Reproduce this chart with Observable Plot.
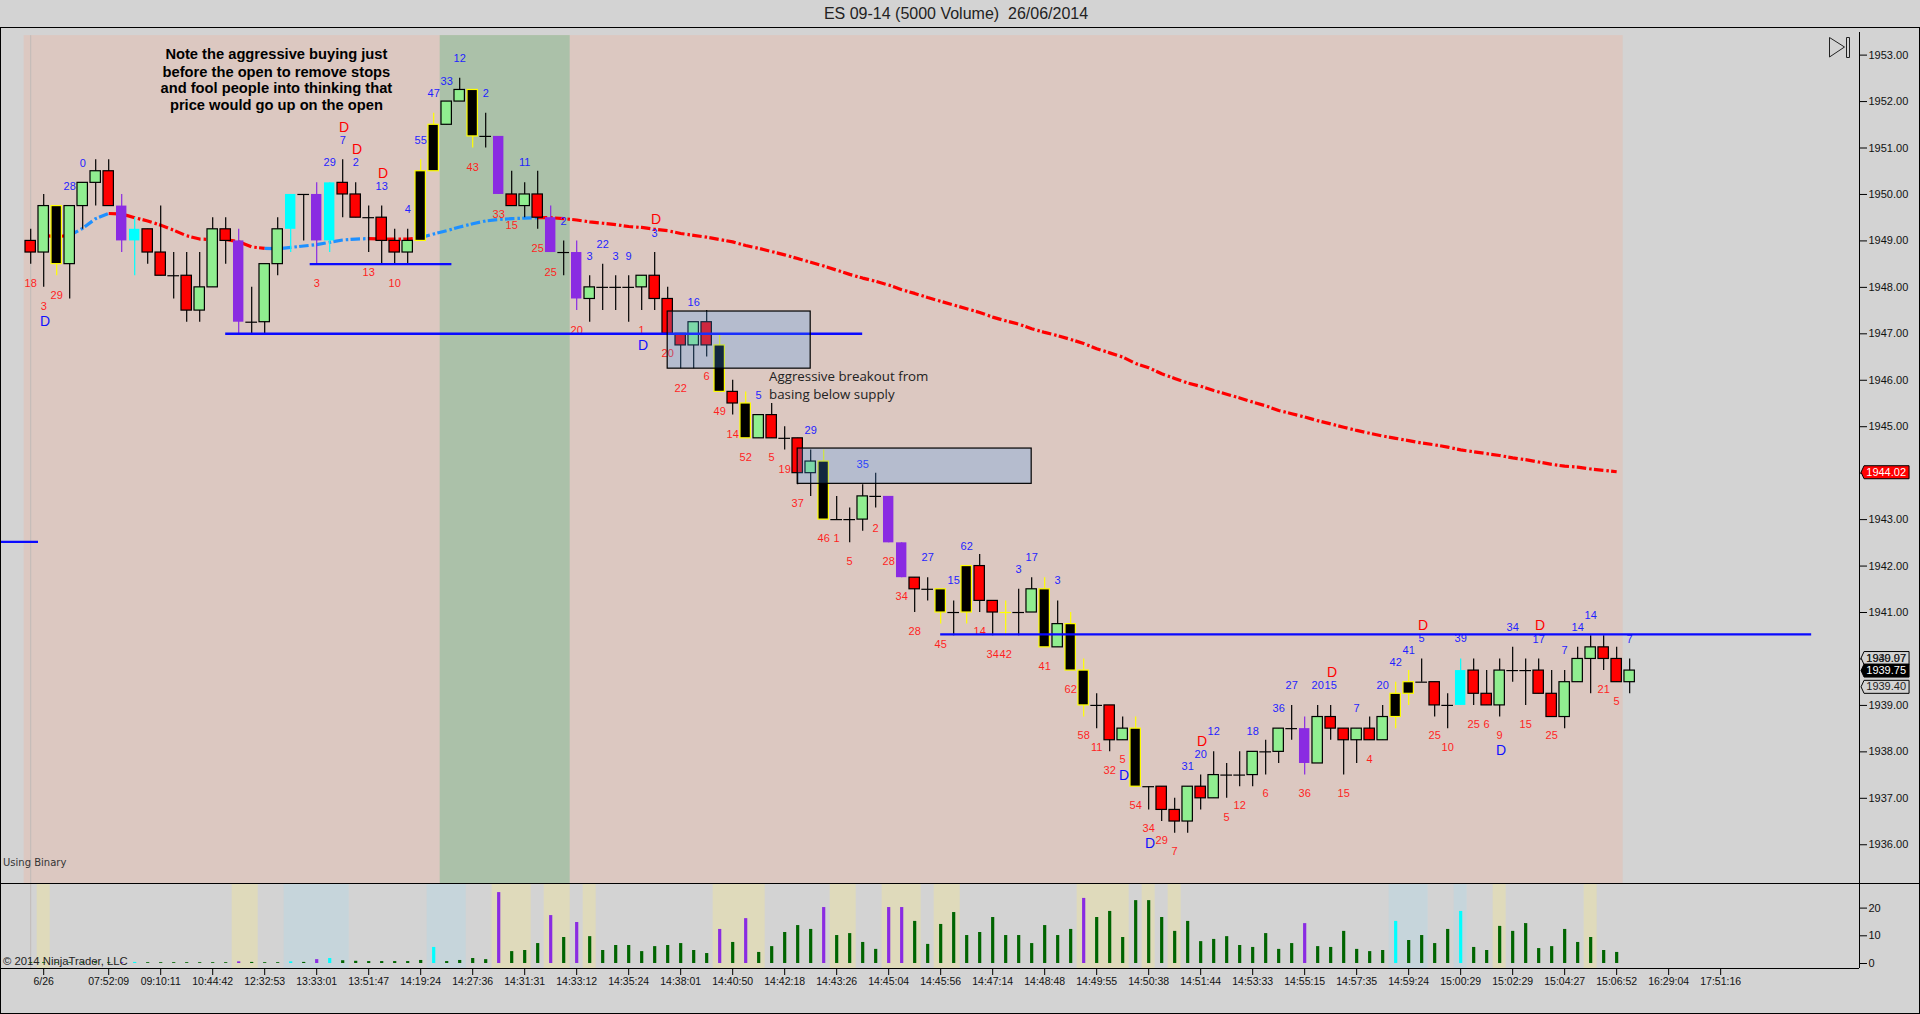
<!DOCTYPE html>
<html>
<head>
<meta charset="utf-8">
<script src="https://cdn.jsdelivr.net/npm/d3@7"></script>
<script src="https://cdn.jsdelivr.net/npm/@observablehq/plot@0.6"></script>
<style>
html,body{margin:0;padding:0;background:#d3d3d3;width:1920px;height:1014px;overflow:hidden;font-family:"Liberation Sans",Arial,sans-serif}
.abs{position:absolute}
#frame{left:0;top:27px;width:1920px;height:987px;box-sizing:border-box;border:1px solid #000;pointer-events:none}
#title{left:0;top:5px;width:1912px;text-align:center;font-size:16px;color:#222;white-space:pre}
#using{left:3px;top:857px;color:#333;font-family:"DejaVu Sans";font-size:10px}
#copy{left:3px;top:955px;font-size:11.3px;color:#222}
#price,#volume{left:0}
#price{top:28px}
#volume{top:883px}
#price svg,#volume svg{display:block;overflow:visible}
</style>
</head>
<body>
<div id="price" class="abs"></div>
<div id="volume" class="abs"></div>
<div id="frame" class="abs"></div>
<div id="title" class="abs">ES 09-14 (5000 Volume)  26/06/2014</div>
<div id="using" class="abs">Using Binary</div>
<div id="copy" class="abs">© 2014 NinjaTrader, LLC</div>
<svg class="abs" style="left:1825px;top:33px" width="30" height="30"><path d="M4.5 4.5 L19.5 14 L4.5 24 Z M21.5 4.5 h3 v20 h-3 Z" fill="none" stroke="#222" stroke-width="1"/></svg>
<div class="abs" style="left:1859px;top:32px;width:1px;height:936px;background:#000"></div>
<div class="abs" style="left:0;top:968px;width:1859px;height:1px;background:#000"></div>
<div class="abs" style="left:0;top:883px;width:1920px;height:1px;background:#000"></div>
<script>
// one row per bar: kinds g=up r=down k=black/yellow p=purple c=cyan d=doji y=yellow doji
const barKinds = [
 "r","g","k","g","g","g","r","p","c","r","r","d","r","g","g","r","p","d","g","g",
 "c","d","p","c","r","r","d","r","r","g","k","k","g","g","k","d","p","r","g","r",
 "p","d","p","g","d","d","d","g","r","r","r","g","r","k","r","k","g","r","d","r",
 "g","k","d","d","g","d","p","p","r","d","k","d","k","r","r","y","d","g","k","g",
 "k","k","d","r","g","k","d","r","r","g","r","g","d","d","g","d","g","d","p","g",
 "r","r","g","r","g","k","k","d","r","d","c","r","r","g","d","d","r","r","g","g",
 "g","r","r","g"];
const opens = [1949,1948.75,1949.75,1948.5,1949.75,1950.25,1950.5,1949.75,1949.25,1949.25,1948.75,1948.25,1948.25,1947.5,1948,1949.25,1949,1947.25,1947.25,1948.5,
 1949.25,1950,1950,1949,1950.25,1950,1949.5,1949.5,1949,1948.75,1949,1950.5,1951.5,1952,1952.25,1951.25,1951.25,1950,1949.75,1950,
 1949.5,1948.75,1948.75,1947.75,1948,1948,1948,1948,1948.25,1947.75,1947,1946.75,1947.25,1946.75,1945.75,1945.5,1944.75,1945.25,1944.75,1944.75,
 1944,1944.25,1943,1943,1943,1943.5,1943.5,1942.5,1941.75,1941.5,1941.5,1941,1941,1942,1941.25,1941,1941,1941,1941.5,1940.25,
 1940.75,1939.75,1939,1939,1938.25,1938.5,1937.25,1937.25,1936.75,1936.5,1937.25,1937,1937.5,1937.5,1937.5,1938,1938,1938.5,1938.5,1937.75,
 1938.75,1938.5,1938.25,1938.5,1938.25,1938.75,1939.25,1939.5,1939.5,1939,1939,1939.75,1939.25,1939,1939.75,1939.75,1939.75,1939.25,1938.75,1939.5,
 1940,1940.25,1940,1939.5];
const closes = [1948.75,1949.75,1948.5,1949.75,1950.25,1950.5,1949.75,1949,1949,1948.75,1948.25,1948.25,1947.5,1948,1949.25,1949,1947.25,1947.25,1948.5,1949.25,
 1950,1950,1949,1950.25,1950,1949.5,1949.5,1949,1948.75,1949,1950.5,1951.5,1952,1952.25,1951.25,1951.25,1950,1949.75,1950,1949.5,
 1948.75,1948.75,1947.75,1948,1948,1948,1948,1948.25,1947.75,1947,1946.75,1947.25,1946.75,1945.75,1945.5,1944.75,1945.25,1944.75,1944.75,1944,
 1944.25,1943,1943,1943,1943.5,1943.5,1942.5,1941.75,1941.5,1941.5,1941,1941,1942,1941.25,1941,1941,1941,1941.5,1940.25,1940.75,
 1939.75,1939,1939,1938.25,1938.5,1937.25,1937.25,1936.75,1936.5,1937.25,1937,1937.5,1937.5,1937.5,1938,1938,1938.5,1938.5,1937.75,1938.75,
 1938.5,1938.25,1938.5,1938.25,1938.75,1939.25,1939.5,1939.5,1939,1939,1939.75,1939.25,1939,1939.75,1939.75,1939.75,1939.25,1938.75,1939.5,1940,
 1940.25,1940,1939.5,1939.75];
const highs = [1949.25,1950,1949.75,1949.75,1950.25,1950.75,1950.75,1950,1949.5,1949.25,1949.75,1948.75,1948.75,1948.75,1949.5,1949.5,1949.25,1948,1948.5,1949.5,
 1950,1950,1950.25,1950.25,1950.75,1950.25,1949.75,1949.75,1949.25,1949.25,1950.75,1951.75,1952,1952.5,1952.25,1951.75,1951.25,1950.5,1950.25,1950.5,
 1949.75,1949,1949,1948.25,1948.5,1948.25,1948.25,1948.25,1948.75,1948,1947,1947.25,1947.5,1947,1946,1945.75,1945.25,1945.5,1945,1944.75,
 1944.5,1944.5,1943.5,1943.25,1943.75,1944,1943.5,1942.5,1941.75,1941.75,1941.5,1941.25,1942,1942.25,1941.25,1941.25,1941.5,1941.75,1941.75,1941.25,
 1941,1940,1939.25,1939,1938.75,1938.75,1937.25,1937.25,1937,1937.25,1937.5,1938,1937.75,1938,1938,1938.25,1938.5,1939,1938.75,1939,
 1939,1938.5,1938.5,1938.75,1939,1939.5,1939.75,1940,1939.5,1939.25,1940,1940,1939.75,1940,1940.25,1940,1940,1939.75,1939.75,1940.25,
 1940.5,1940.5,1940.25,1940];
const lows = [1948.5,1948,1948.25,1947.75,1949.25,1949.75,1949.75,1948.75,1948.25,1948.5,1948.25,1947.75,1947.25,1947.25,1948,1948.5,1947,1947,1947,1948.25,
 1948.75,1949,1948.5,1948.75,1949.5,1949.5,1948.75,1948.5,1948.5,1948.5,1949,1950.5,1951.5,1952,1951,1951,1950,1949.75,1949.5,1949.25,
 1948.75,1948.25,1947.5,1947.25,1947.5,1947.5,1947.25,1947.5,1947.5,1947,1946.25,1946.25,1946.5,1945.75,1945.25,1944.75,1944.75,1944.75,1944.5,1943.75,
 1943.5,1943,1943,1942.5,1942.75,1943.25,1942.5,1941.75,1941,1941.25,1940.75,1940.5,1940.75,1941,1940.5,1940.5,1940.5,1941,1940.25,1940.25,
 1939.75,1938.75,1938.5,1938,1938.25,1937.25,1936.75,1936.5,1936.25,1936.25,1936.75,1937,1937,1937.25,1937.25,1937.5,1937.75,1938.25,1937.5,1937.75,
 1938.25,1937.5,1937.75,1938.25,1938.25,1938.5,1939,1939.5,1938.75,1938.5,1939,1939,1939,1938.75,1939.5,1939,1939.25,1938.75,1938.5,1939.5,
 1939.25,1939.75,1939.5,1939.25];

// moving average, bar 1 to bar 122
const emaValues = [1949.12,1949.09,1949.12,1949.27,1949.48,1949.59,1949.58,1949.5,1949.43,1949.34,1949.23,1949.11,1949.04,1949.03,1949.03,1948.98,1948.87,1948.84,1948.83,1948.86,
 1948.89,1948.92,1948.97,1949.02,1949.04,1949.05,1949.04,1949.04,1949.04,1949.07,1949.15,1949.22,1949.3,1949.37,1949.43,1949.46,1949.48,1949.49,1949.5,1949.5,
 1949.48,1949.45,1949.41,1949.38,1949.35,1949.31,1949.29,1949.25,1949.22,1949.16,1949.12,1949.08,1949.03,1948.98,1948.9,1948.84,1948.77,1948.7,1948.62,1948.54,
 1948.46,1948.37,1948.28,1948.2,1948.13,1948.05,1947.95,1947.87,1947.78,1947.7,1947.62,1947.54,1947.46,1947.36,1947.28,1947.21,1947.11,1947.03,1946.96,1946.88,
 1946.79,1946.68,1946.59,1946.5,1946.36,1946.27,1946.14,1946.04,1945.94,1945.87,1945.78,1945.7,1945.62,1945.53,1945.45,1945.35,1945.28,1945.21,1945.13,1945.06,
 1944.99,1944.92,1944.86,1944.8,1944.75,1944.7,1944.65,1944.61,1944.56,1944.5,1944.46,1944.42,1944.38,1944.33,1944.29,1944.24,1944.19,1944.15,1944.13,1944.09,
 1944.06,1944.03];
const emaSegments = [[1,3,"#ff0000"],[3,6,"#1e90ff"],[6,18,"#ff0000"],[18,26,"#1e90ff"],[26,30,"#ff0000"],[30,39,"#1e90ff"],[39,122,"#ff0000"]];

const blueLabels = [[4,1950.67,"0"],[3,1950.18,"28"],[23,1950.68,"29"],[24,1951.17,"7"],[25,1950.68,"2"],[27,1950.18,"13"],[29,1949.68,"4"],[30,1951.17,"55"],[31,1952.18,"47"],[32,1952.43,"33"],[33,1952.92,"12"],[35,1952.18,"2"],[38,1950.68,"11"],[41,1949.42,"2"],[43,1948.67,"3"],[44,1948.92,"22"],[45,1948.67,"3"],[46,1948.67,"9"],
 [48,1949.17,"3"],[51,1947.68,"16"],[56,1945.68,"5"],[60,1944.92,"29"],[64,1944.19,"35"],[69,1942.19,"27"],[72,1942.42,"62"],[71,1941.69,"15"],[76,1941.93,"3"],[77,1942.19,"17"],[79,1941.69,"3"],
 [89,1937.68,"31"],[90,1937.94,"20"],[91,1938.44,"12"],[94,1938.44,"18"],[96,1938.93,"36"],[97,1939.43,"27"],[99,1939.43,"20"],[100,1939.43,"15"],[102,1938.93,"7"],[104,1939.43,"20"],[105,1939.92,"42"],[106,1940.18,"41"],[107,1940.44,"5"],[110,1940.44,"39"],[114,1940.68,"34"],[116,1940.43,"17"],[118,1940.18,"7"],[119,1940.68,"14"],[120,1940.94,"14"],[123,1940.43,"7"]];
const redLabels = [[0,1948.09,"18"],[1,1947.59,"3"],[2,1947.83,"29"],[22,1948.09,"3"],[26,1948.33,"13"],[28,1948.09,"10"],[34,1950.59,"43"],[36,1949.58,"33"],[37,1949.34,"15"],[39,1948.84,"25"],[40,1948.33,"25"],[42,1947.08,"20"],
 [47,1947.08,"1"],[49,1946.58,"20"],[50,1945.82,"22"],[52,1946.08,"6"],[53,1945.33,"49"],[54,1944.83,"14"],[55,1944.34,"52"],[57,1944.34,"5"],[58,1944.08,"19"],[59,1943.35,"37"],[61,1942.59,"46"],[62,1942.59,"1"],[63,1942.1,"5"],[65,1942.82,"2"],[66,1942.1,"28"],[67,1941.35,"34"],
 [68,1940.59,"28"],[70,1940.32,"45"],[73,1940.59,"14"],[74,1940.09,"34"],[75,1940.09,"42"],[78,1939.84,"41"],[80,1939.34,"62"],[81,1938.35,"58"],[82,1938.09,"11"],[84,1937.83,"5"],[83,1937.59,"32"],[85,1936.84,"54"],[86,1936.34,"34"],[87,1936.09,"29"],[88,1935.86,"7"],[92,1936.58,"5"],[93,1936.84,"12"],[95,1937.1,"6"],[98,1937.1,"36"],[101,1937.1,"15"],[103,1937.83,"4"],[108,1938.35,"25"],[109,1938.09,"10"],[111,1938.59,"25"],[112,1938.59,"6"],[113,1938.35,"9"],[115,1938.59,"15"],[117,1938.35,"25"],[121,1939.34,"21"],[122,1939.08,"5"]];
const blueD = [[1.1,1947.26],[47.1,1946.75],[84.1,1937.5],[86.1,1936.03],[113.1,1938.03]];
const redD = [[24.1,1951.45],[25.1,1950.96],[27.1,1950.46],[48.1,1949.45],[90.1,1938.22],[100.1,1939.71],[107.1,1940.72],[116.1,1940.72]];

const blueLines = [[21.5,32.4,1948.5],[15,64,1947],[70,137,1940.53],[-2.25,0.6,1942.52]];
const supplyZones = [[49,60,1947.48,1946.25],[59,77,1944.53,1943.77]];
const noteLines = ["Note the aggressive buying just","before the open to remove stops","and fool people into thinking that","price would go up on the open"];
const notePrices = [1953.01,1952.64,1952.28,1951.91];
const breakoutLines = ["Aggressive breakout from","basing below supply"];
const breakoutPrices = [1946.07,1945.68];
const flagTexts = [["1940.07",1940.02,"#d3d3d3","#222"],["1939.97",1940.02,"none","#222"],["1944.02",1944.02,"#ff0000","#fff"],["1939.75",1939.75,"#000","#fff"],["1939.40",1939.40,"#d3d3d3","#222"]];

const volumes = [.3,.3,.3,.3,.3,.3,.3,.3,.4,.3,.3,.3,.3,.3,.3,.3,.6,.4,.3,.3,.6,.4,1.4,1.8,1,.8,.7,.7,.7,.7,1.1,5.8,.7,1.1,1.8,1.4,25.6,
 4.3,4.7,7.2,17.3,9.4,14.8,9.7,4.7,6.5,6.5,4.3,6.1,6.5,7.2,4.7,3.6,12.3,7.6,16.2,4,6.1,11.2,13.7,12.3,20.2,10.1,10.8,7.6,5.1,20.2,20.2,15.2,6.9,14.1,18.4,
 10.1,11.2,16.6,10.1,10.1,7.2,13.7,10.1,12.3,23.5,16.6,18.8,9.4,22.7,22.7,16.6,11.6,15.2,7.9,8.7,9.7,6.5,5.8,10.8,5.1,7.2,14.4,6.1,5.8,11.6,5.1,4.3,4.7,15.2,8.3,10.1,7.2,12.3,18.8,5.8,4.7,13.4,11.6,14.4,5.4,6.1,12.3,7.6,9.4,4.7,4];
const volPurple = [7,16,22,36,40,42,53,55,61,66,67,81,98];
const volCyan = [8,20,23,31,105,110];
const yellowBands = [[.5,1.5],[15.5,17.5],[35.5,38.5],[39.5,41.5],[42.5,43.5],[52.5,56.5],[61.5,63.5],[65.5,68.5],[69.5,71.5],[80.5,84.5],[85.5,86.5],[87.5,88.5],[112.5,113.5],[119.5,120.5]];
const blueBands = [[19.5,24.5],[30.5,33.5],[104.5,107.5],[109.5,110.5]];
const timeTicks = [1,6,10,14,18,22,26,30,34,38,42,46,50,54,58,62,66,70,74,78,82,86,90,94,98,102,106,110,114,118,122,126,130];
const timeLabels = ["6/26","07:52:09","09:10:11","10:44:42","12:32:53","13:33:01","13:51:47","14:19:24","14:27:36","14:31:31","14:33:12","14:35:24","14:38:01","14:40:50","14:42:18","14:43:26","14:45:04","14:45:56","14:47:14","14:48:48","14:49:55","14:50:38","14:51:44","14:53:33","14:55:15","14:57:35","14:59:24","15:00:29","15:02:29","15:04:27","15:06:52","16:29:04","17:51:16"];
const priceTicks = d3.range(1936,1954);

// ---------- tables ----------
const bars = barKinds.map((k,i)=>({i,k,o:opens[i],c:closes[i],h:highs[i],l:lows[i]}));
const fillOf = {g:"#90ee90",r:"#ff0000",k:"#000000",p:"#8a2be2",c:"#00ffff"};
const wickOf = {g:"#000",r:"#000",k:"#ffff00",p:"#8a2be2",c:"#00ffff",d:"#000",y:"#ffff00"};
const strokeOf = {g:"#000",r:"#000",k:"#ffff00",p:"none",c:"none"};
const boxes = bars.filter(b=>!"dy".includes(b.k));
const dojis = bars.filter(b=>"dy".includes(b.k));
const emaRows = emaSegments.flatMap(([a,b,color],z)=>d3.range(a,b+1).map(i=>({i,v:emaValues[i-1],color,z})));
const half = 0.4;
const xDomain = [-2.323,140.68];
const priceDomain = [1935.166,1953.573];
const paneTop = 1953.42;
const pinkRows = [[-0.5,122.5]];
const greenRows = [[31.5,41.5]];
const flagSymbol = {draw(c){c.moveTo(0,0);c.lineTo(3,-6.5);c.lineTo(48,-6.5);c.lineTo(48,6.5);c.lineTo(3,6.5);c.closePath();}};
const font = '"Liberation Sans",Arial,sans-serif';

const price = Plot.plot({
  width:1920,height:855,marginLeft:0,marginRight:61,marginTop:0,marginBottom:0,
  style:{background:"transparent",fontFamily:font,fontSize:"11px",overflow:"visible"},
  x:{type:"linear",domain:xDomain,axis:null},
  y:{domain:priceDomain,axis:null},
  marks:[
    Plot.rect(pinkRows,{x1:d=>d[0],x2:d=>d[1],y1:priceDomain[0],y2:paneTop,fill:"#dcc8c1"}),
    Plot.rect(greenRows,{x1:d=>d[0],x2:d=>d[1],y1:priceDomain[0],y2:paneTop,fill:"#abc1a9"}),
    Plot.ruleX([0],{y1:priceDomain[0],y2:paneTop,stroke:"#c0bbb8"}),
    Plot.line(emaRows,{x:"i",y:"v",z:"z",stroke:"color",strokeWidth:3.2,strokeDasharray:"9.5,3,2.5,2.3",strokeLinecap:"butt",curve:"linear"}),
    Plot.ruleX(bars,{x:"i",y1:"l",y2:"h",stroke:d=>wickOf[d.k],strokeWidth:1.2}),
    Plot.ruleY(dojis,{y:"o",x1:d=>d.i-half-0.05,x2:d=>d.i+half+0.05,stroke:d=>wickOf[d.k],strokeWidth:1.2}),
    Plot.rect(boxes,{x1:d=>d.i-half,x2:d=>d.i+half,y1:"o",y2:"c",fill:d=>fillOf[d.k],stroke:d=>strokeOf[d.k],strokeWidth:1.2}),
    Plot.text(blueLabels,{x:d=>d[0],y:d=>d[1],text:d=>d[2],fill:"#1f1fff",fontSize:11}),
    Plot.text(redLabels,{x:d=>d[0],y:d=>d[1],text:d=>d[2],fill:"#ff1f1f",fontSize:11}),
    Plot.text(blueD,{x:d=>d[0],y:d=>d[1],text:()=>"D",fill:"#1010ff",fontSize:14}),
    Plot.text(redD,{x:d=>d[0],y:d=>d[1],text:()=>"D",fill:"#ff0000",fontSize:14}),
    Plot.ruleY(blueLines,{y:d=>d[2],x1:d=>d[0],x2:d=>d[1],stroke:"#0a0aff",strokeWidth:2.4}),
    Plot.rect(supplyZones,{x1:d=>d[0],x2:d=>d[1],y1:d=>d[3],y2:d=>d[2],fill:"rgb(70,154,242)",fillOpacity:0.26}),
    Plot.rect(supplyZones,{x1:d=>d[0],x2:d=>d[1],y1:d=>d[3],y2:d=>d[2],fill:"none",stroke:"#000",strokeWidth:1.2}),
    Plot.text(noteLines,{x:()=>18.9,y:(d,i)=>notePrices[i],text:d=>d,fill:"#000",fontWeight:"bold",fontSize:14.7}),
    Plot.text(breakoutLines,{x:()=>56.8,y:(d,i)=>breakoutPrices[i],text:d=>d,fill:"#222",fontSize:13.3,textAnchor:"start",fontFamily:"Open Sans"}),
    Plot.axisY({anchor:"right",ticks:priceTicks,tickFormat:d3.format(".2f"),tickSize:7,tickPadding:2,label:null,fontSize:11,fill:"#111"}),
    Plot.dot(flagTexts,{x:()=>140.8,y:d=>d[1],symbol:flagSymbol,r:5,fill:d=>d[2],stroke:d=>d[2]==="none"?"none":"#000",strokeWidth:1}),
    Plot.text(flagTexts,{x:()=>141.2,y:d=>d[1],text:d=>d[0],fill:d=>d[3],fontSize:11,textAnchor:"start"})
  ]
});
document.getElementById("price").append(price);

const volRows = volumes.map((v,i)=>({i,v,color:volPurple.includes(i)?"#8a2be2":volCyan.includes(i)?"#00ffff":"#006400"}));
const volume = Plot.plot({
  width:1920,height:131,marginLeft:0,marginRight:61,marginTop:0,marginBottom:46,
  style:{background:"transparent",fontFamily:font,fontSize:"11px",overflow:"visible"},
  x:{type:"linear",domain:xDomain,axis:null},
  y:{domain:[-1.8,28.88],axis:null},
  marks:[
    Plot.rect(yellowBands,{x1:d=>d[0],x2:d=>d[1],fill:"#dfdabb"}),
    Plot.rect(blueBands,{x1:d=>d[0],x2:d=>d[1],fill:"#c6d5db"}),
    Plot.ruleX([0],{stroke:"#c0bbb8"}),
    Plot.ruleX(volRows,{x:"i",y1:0,y2:"v",stroke:"color",strokeWidth:3.2}),
    Plot.axisY({anchor:"right",ticks:[0,10,20],tickSize:7,tickPadding:2,label:null,fontSize:11,fill:"#111"}),
    Plot.axisX({ticks:timeTicks,tickFormat:d=>timeLabels[timeTicks.indexOf(d)],tickSize:7,tickPadding:2,label:null,fontSize:10.5,fill:"#111"})
  ]
});
document.getElementById("volume").append(volume);
</script>
</body>
</html>
